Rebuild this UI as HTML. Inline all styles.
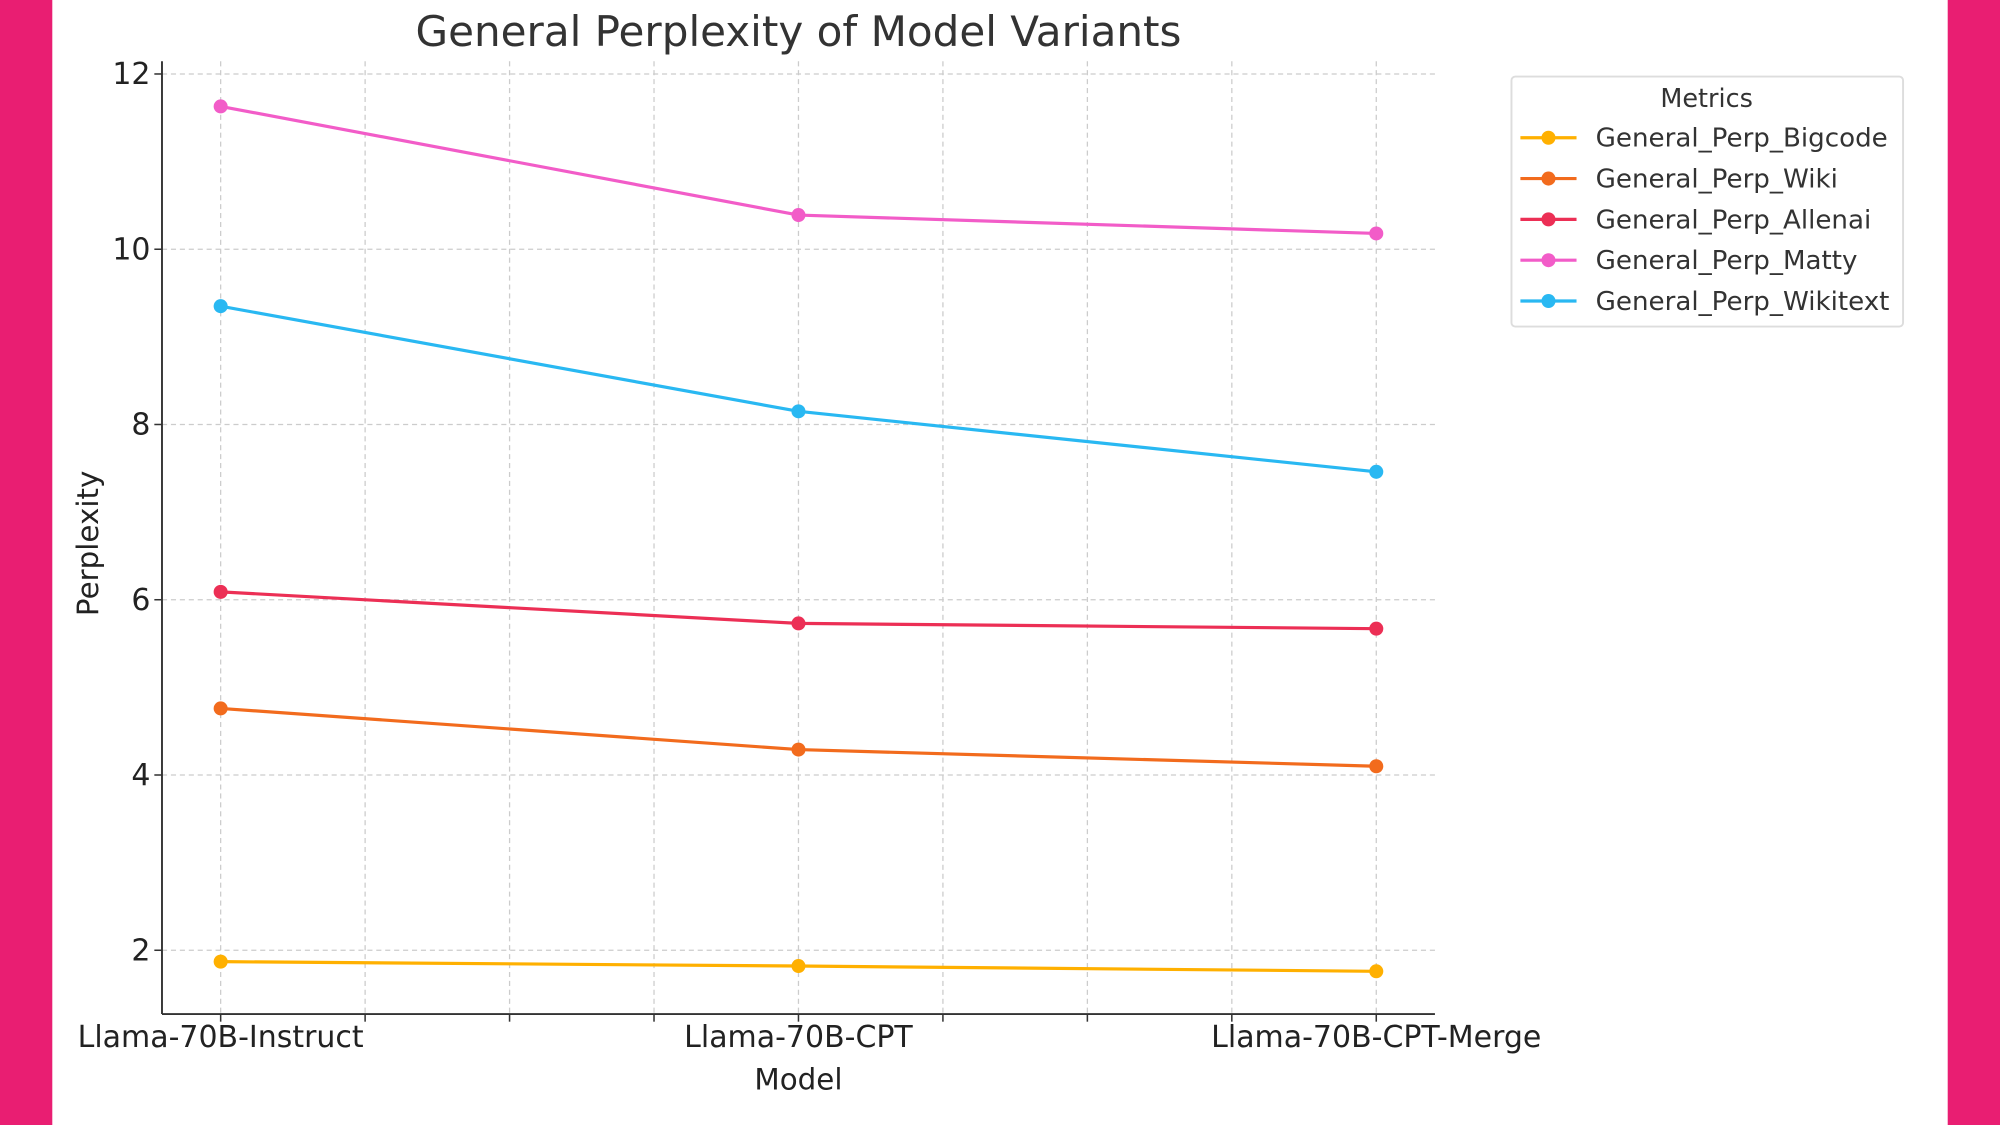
<!DOCTYPE html>
<html><head><meta charset="utf-8"><style>
html,body{margin:0;padding:0;width:2000px;height:1125px;overflow:hidden;background:#fff}
svg{display:block;font-family:"DejaVu Sans","Liberation Sans",sans-serif}
</style></head><body>
<svg id="chart" width="2000" height="1125" viewBox="0 0 1568 882" xmlns="http://www.w3.org/2000/svg">
<rect x="0" y="0" width="1568" height="882" fill="#fff"/>
<rect x="0" y="0" width="41" height="882" fill="#E91E72"/>
<rect x="1527" y="0" width="41" height="882" fill="#E91E72"/>
<text x="626" y="36" text-anchor="middle" font-size="33" fill="#333">General Perplexity of Model Variants</text>
<g id="grid"></g><g id="axes"></g><g id="series"></g><g id="legend"></g>
<text x="626" y="854" text-anchor="middle" font-size="23" fill="#222">Model</text>
<text transform="translate(77,426) rotate(-90)" text-anchor="middle" font-size="23" fill="#222">Perplexity</text>
</svg>
<script>
const categories = ["Llama-70B-Instruct","Llama-70B-CPT","Llama-70B-CPT-Merge"];
const seriesNames = ["General_Perp_Bigcode","General_Perp_Wiki","General_Perp_Allenai","General_Perp_Matty","General_Perp_Wikitext"];
const bigcode = [1.87,1.82,1.76];
const wiki = [4.76,4.29,4.10];
const allenai = [6.09,5.73,5.67];
const matty = [11.63,10.39,10.18];
const wikitext = [9.35,8.15,7.46];
const yTicks = [2,4,6,8,10,12];
const colors = ["#FFB000","#F26B1D","#EC2F55","#F25CC8","#29B8F2"];
const allSeries = [bigcode,wiki,allenai,matty,wikitext];
const NS="http://www.w3.org/2000/svg";
function xs(i){return 173+453*i;}
function ys(v){return 882.4-68.7*v;}
const L=127,R=1125,T=48,B=795;
function mk(tag,attrs,parent){const e=document.createElementNS(NS,tag);for(const k in attrs)e.setAttribute(k,attrs[k]);parent.appendChild(e);return e;}
const grid=document.getElementById('grid'),axes=document.getElementById('axes'),ser=document.getElementById('series'),leg=document.getElementById('legend');
for(let q=0;q<=8;q++){const x=xs(q*0.25);
 const g=mk('line',{x1:x,x2:x,y1:T,y2:B,stroke:'#ccc','stroke-dasharray':'4,3','stroke-width':1},grid);
 
 
 const t=mk('line',{x1:x,x2:x,y1:B,y2:B+6,stroke:'#333','stroke-width':1.2},axes);
 
 }
yTicks.forEach(v=>{const y=ys(v);
 const g=mk('line',{x1:L,x2:R,y1:y,y2:y,stroke:'#ccc','stroke-dasharray':'4,3','stroke-width':1},grid);
 
 
 const t=mk('line',{x1:L-6,x2:L,y1:y,y2:y,stroke:'#333','stroke-width':1.2},axes);
 
 
 const tx=mk('text',{x:L-9,y:y+8,'text-anchor':'end','font-size':23.5,fill:'#222'},axes);tx.textContent=v;
 
 });
categories.forEach((c,i)=>{const tx=mk('text',{x:xs(i),y:821,'text-anchor':'middle','font-size':23.5,fill:'#222'},axes);tx.textContent=c;
 
 });
const sp1=mk('line',{x1:L,x2:L,y1:T,y2:B,stroke:'#333','stroke-width':1.5},axes);


const sp2=mk('line',{x1:L,x2:R,y1:B,y2:B,stroke:'#333','stroke-width':1.5},axes);


allSeries.forEach((d,s)=>{
 const pl=mk('polyline',{points:d.map((v,i)=>xs(i)+','+ys(v)).join(' '),fill:'none',stroke:colors[s],'stroke-width':2.5},ser);
 
 
 d.forEach((v,i)=>{const c=mk('circle',{cx:xs(i),cy:ys(v),r:5.5,fill:colors[s]},ser);
  
  });
});
const box=mk('rect',{x:1185,y:60,width:307,height:196,rx:3,fill:'#fff',stroke:'#ddd','stroke-width':1.5},leg);


const lt=mk('text',{x:1338,y:84,'text-anchor':'middle','font-size':20,fill:'#333'},leg);lt.textContent='Metrics';


seriesNames.forEach((n,s)=>{const y=108+32*s;
 const g=mk('g',{},leg);
 
 
 mk('line',{x1:1192,x2:1236,y1:y,y2:y,stroke:colors[s],'stroke-width':2.5},g);
 mk('circle',{cx:1214,cy:y,r:5.5,fill:colors[s]},g);
 const t=mk('text',{x:1251,y:y+7,'font-size':20.5,fill:'#333'},g);t.textContent=n;});
</script>
</body></html>
